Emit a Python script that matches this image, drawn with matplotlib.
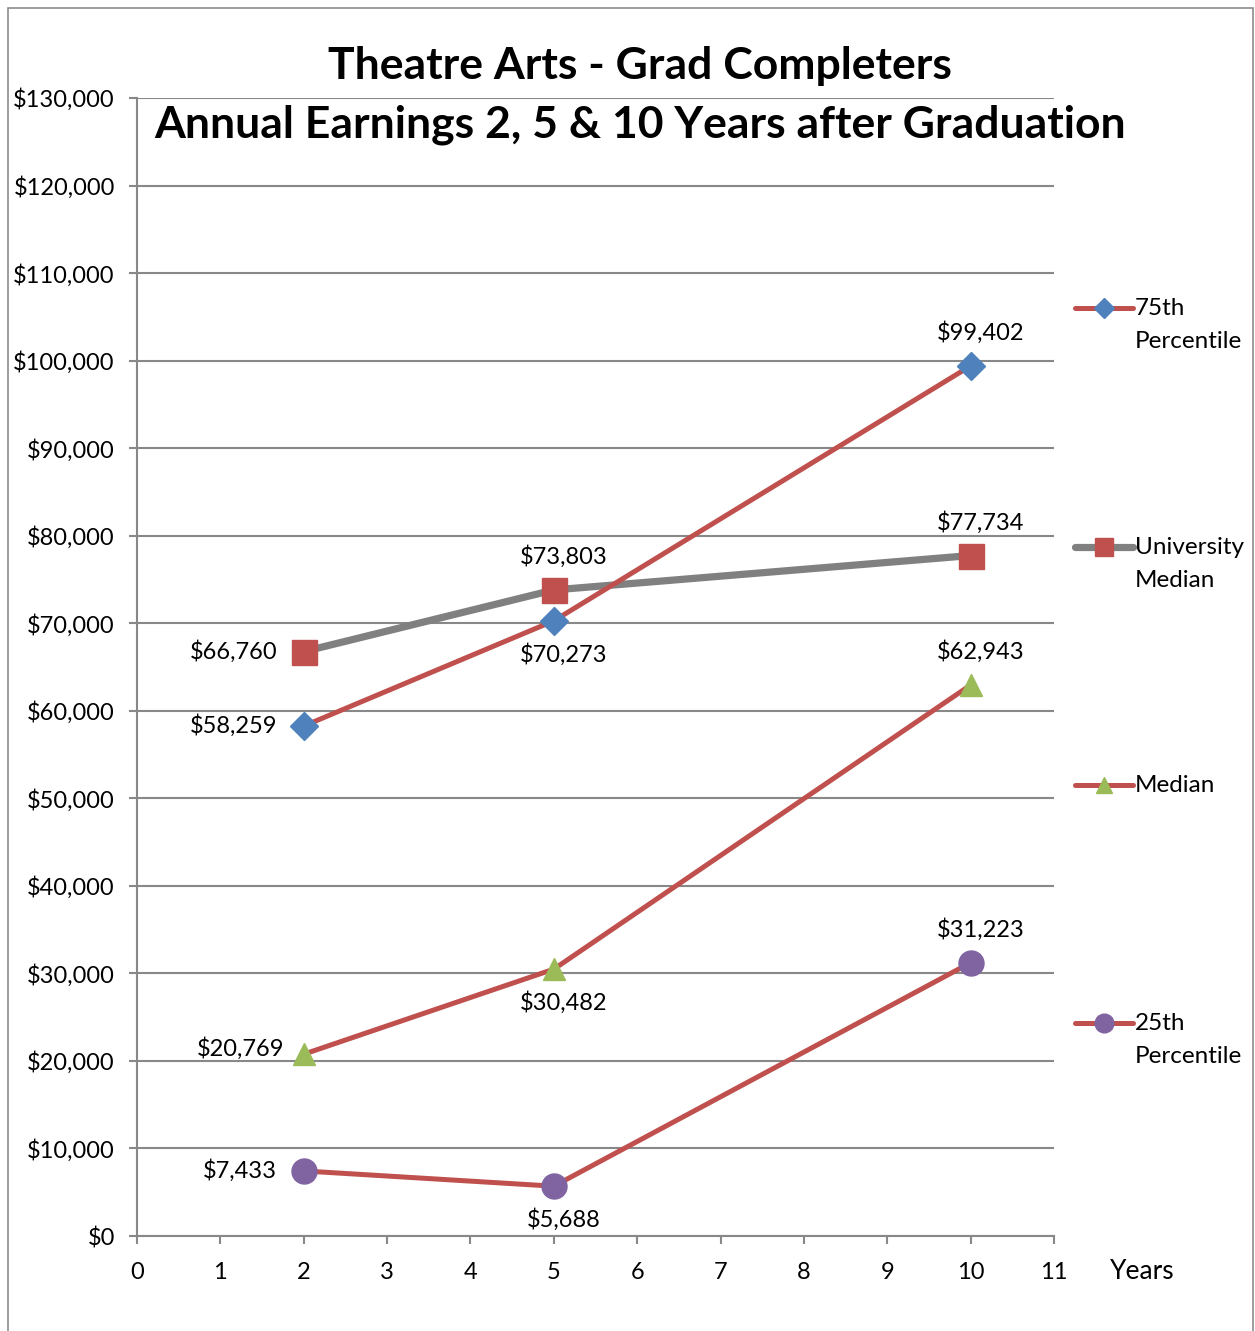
import matplotlib.pyplot as plt
from matplotlib.patches import Rectangle
from matplotlib.lines import Line2D

plt.rcParams['font.family'] = ['Lato', 'DejaVu Sans']

# === Data ===
years = [2, 5, 10]
p75 = [58259, 70273, 99402]
uni_median = [66760, 73803, 77734]
median = [20769, 30482, 62943]
p25 = [7433, 5688, 31223]

series_names = ["75th\nPercentile", "University\nMedian", "Median", "25th\nPercentile"]

# label placement per point: 'left', 'above', 'below'
p75_pos = ['left', 'below', 'above']
uni_pos = ['left', 'above', 'above']
med_pos = ['leftup', 'below', 'above']
p25_pos = ['left', 'below', 'above']

RED = '#C0504D'
GRAY = '#808080'
BLUE = '#4F81BD'
GREEN = '#9BBB59'
PURPLE = '#8064A2'
GRID = '#888888'
FS = 17

fig = plt.figure(figsize=(12.55, 13.31), dpi=100)
ax = fig.add_axes([137 / 1255, 1 - 1236 / 1331, 917 / 1255, 1138 / 1331])

# frame around the chart
fig.patches.append(Rectangle((8 / 1255, -0.01), (1253 - 8) / 1255, 1 - 8 / 1331 + 0.01,
                             transform=fig.transFigure, fill=False,
                             edgecolor='#8c8c8c', linewidth=1.2))

styles = [
    (p75, RED, 3.6, 'D', BLUE, 14, p75_pos),
    (uni_median, GRAY, 5.2, 's', RED, 18, uni_pos),
    (median, RED, 3.6, '^', GREEN, 16, med_pos),
    (p25, RED, 3.6, 'o', PURPLE, 18, p25_pos),
]
zorders = [5, 4, 5, 5]

for (vals, lc, lw, mk, mc, ms, pos), z in zip(styles, zorders):
    ax.plot(years, vals, color=lc, lw=lw, marker=mk, markersize=ms,
            markerfacecolor=mc, markeredgecolor=mc, zorder=z, clip_on=False,
            solid_capstyle='round')
    for x, v, p in zip(years, vals, pos):
        txt = f"${v:,}"
        if p == 'left':
            ax.annotate(txt, (x, v), xytext=(-19, 0), textcoords='offset points',
                        ha='right', va='center', fontsize=FS)
        elif p == 'leftup':
            ax.annotate(txt, (x, v), xytext=(-14, 4), textcoords='offset points',
                        ha='right', va='center', fontsize=FS)
        elif p == 'above':
            ax.annotate(txt, (x, v), xytext=(7, 24), textcoords='offset points',
                        ha='center', va='center', fontsize=FS)
        else:
            ax.annotate(txt, (x, v), xytext=(7, -24), textcoords='offset points',
                        ha='center', va='center', fontsize=FS)

ax.set_xlim(0, 11)
ax.set_ylim(0, 130000)
ax.set_xticks(range(0, 12))
ax.set_yticks(range(0, 130001, 10000))
ax.yaxis.set_major_formatter(plt.FuncFormatter(lambda v, _: f"${int(v):,}"))
ax.tick_params(axis='both', labelsize=FS, color=GRID, width=1.5, length=6, direction='out')
ax.tick_params(axis='y', pad=10)
ax.tick_params(axis='x', pad=13)
ax.grid(axis='y', color=GRID, linewidth=1.5)
ax.set_axisbelow(True)
for s in ['top', 'right']:
    ax.spines[s].set_visible(False)
for s in ['left', 'bottom']:
    ax.spines[s].set_color(GRID)
    ax.spines[s].set_linewidth(1.5)

ax.text(1.061, -0.031, "Years", transform=ax.transAxes, fontsize=19, va='center', ha='left')

# legend drawn by hand so the marker sits on the first text line
leg_y = [0.8155, 0.6054, 0.3963, 0.1872]
for (vals, lc, lw, mk, mc, ms, pos), name, ly in zip(styles, series_names, leg_y):
    ax.add_line(Line2D([1.0229, 1.0862], [ly, ly], transform=ax.transAxes, color=lc,
                       lw=lw, solid_capstyle='round', clip_on=False))
    ax.add_line(Line2D([1.0545], [ly], transform=ax.transAxes, marker=mk,
                       markersize=ms * 0.75, color=mc, clip_on=False))
    ax.text(1.0883, ly + 0.0085, name, transform=ax.transAxes, fontsize=17.5,
            ha='left', va='top', linespacing=1.7)

fig.text(0.51, 1 - 66 / 1331, "Theatre Arts - Grad Completers", ha='center', va='center',
         fontsize=32, fontweight='bold')
fig.text(0.51, 1 - 125 / 1331, "Annual Earnings 2, 5 & 10 Years after Graduation",
         ha='center', va='center', fontsize=32, fontweight='bold')

fig.savefig("out.png", dpi=100)
